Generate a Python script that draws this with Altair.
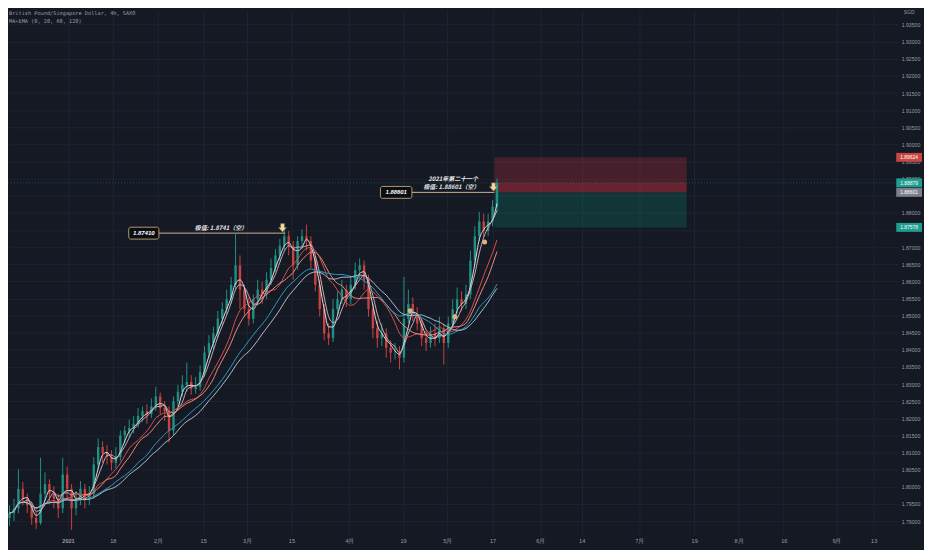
import json
import altair as alt
import pandas as pd

# ---------------- data (one candle per trading day) ----------------
close = [1.7923, 1.7937, 1.7994, 1.7965, 1.7946, 1.7909, 1.7894, 1.7980, 1.8008, 1.7980,
         1.7965, 1.7937, 1.8036, 1.7994, 1.7937, 1.7965, 1.7994, 1.7965, 1.7980, 1.8065,
         1.8116, 1.8099, 1.8087, 1.8070, 1.8087, 1.8150, 1.8164, 1.8172, 1.8184, 1.8207,
         1.8221, 1.8212, 1.8235, 1.8264, 1.8230, 1.8221, 1.8164, 1.8250, 1.8278, 1.8298,
         1.8306, 1.8286, 1.8292, 1.8335, 1.8392, 1.8420, 1.8448, 1.8491, 1.8519, 1.8548,
         1.8590, 1.8647, 1.8576, 1.8519, 1.8491, 1.8548, 1.8576, 1.8562, 1.8605, 1.8639,
         1.8676, 1.8704, 1.8732, 1.8704, 1.8647, 1.8718, 1.8732, 1.8718, 1.8661, 1.8590,
         1.8519, 1.8448, 1.8434, 1.8519, 1.8548, 1.8576, 1.8548, 1.8590, 1.8633, 1.8647,
         1.8605, 1.8519, 1.8463, 1.8434, 1.8448, 1.8406, 1.8392, 1.8392, 1.8377, 1.8491,
         1.8534, 1.8505, 1.8477, 1.8434, 1.8420, 1.8448, 1.8434, 1.8463, 1.8420, 1.8477,
         1.8519, 1.8548, 1.8534, 1.8562, 1.8661, 1.8732, 1.8775, 1.8747, 1.8775, 1.8818, 1.8888]
high = [1.7946, 1.7965, 1.8051, 1.8014, 1.7980, 1.7957, 1.7929, 1.8085, 1.8042, 1.8022,
        1.8002, 1.7980, 1.8085, 1.8059, 1.8008, 1.7988, 1.8017, 1.8008, 1.8002, 1.8087,
        1.8141, 1.8133, 1.8122, 1.8107, 1.8116, 1.8164, 1.8178, 1.8196, 1.8207, 1.8230,
        1.8235, 1.8241, 1.8258, 1.8292, 1.8275, 1.8250, 1.8235, 1.8264, 1.8298, 1.8326,
        1.8363, 1.8326, 1.8321, 1.8355, 1.8411, 1.8443, 1.8468, 1.8514, 1.8539, 1.8576,
        1.8613, 1.8738, 1.8676, 1.8590, 1.8553, 1.8562, 1.8605, 1.8599, 1.8627, 1.8667,
        1.8695, 1.8724, 1.8752, 1.8747, 1.8718, 1.8732, 1.8752, 1.8766, 1.8732, 1.8676,
        1.8605, 1.8534, 1.8477, 1.8548, 1.8571, 1.8605, 1.8590, 1.8616, 1.8656, 1.8667,
        1.8661, 1.8619, 1.8534, 1.8485, 1.8477, 1.8463, 1.8428, 1.8420, 1.8411, 1.8613,
        1.8576, 1.8553, 1.8525, 1.8491, 1.8454, 1.8468, 1.8477, 1.8497, 1.8477, 1.8497,
        1.8548, 1.8582, 1.8571, 1.8590, 1.8690, 1.8761, 1.8803, 1.8798, 1.8798, 1.8838, 1.8900]
low = [1.7886, 1.7900, 1.7923, 1.7946, 1.7923, 1.7889, 1.7877, 1.7889, 1.7957, 1.7951,
       1.7937, 1.7909, 1.7923, 1.7965, 1.7874, 1.7917, 1.7946, 1.7937, 1.7946, 1.7965,
       1.8051, 1.8070, 1.8065, 1.8048, 1.8053, 1.8076, 1.8127, 1.8144, 1.8156, 1.8173,
       1.8190, 1.8184, 1.8201, 1.8221, 1.8212, 1.8193, 1.8130, 1.8150, 1.8235, 1.8264,
       1.8278, 1.8269, 1.8272, 1.8281, 1.8321, 1.8377, 1.8400, 1.8434, 1.8471, 1.8505,
       1.8534, 1.8576, 1.8519, 1.8497, 1.8471, 1.8477, 1.8531, 1.8534, 1.8548, 1.8590,
       1.8627, 1.8661, 1.8690, 1.8676, 1.8605, 1.8633, 1.8695, 1.8690, 1.8639, 1.8571,
       1.8497, 1.8428, 1.8414, 1.8423, 1.8502, 1.8534, 1.8525, 1.8534, 1.8576, 1.8610,
       1.8576, 1.8497, 1.8434, 1.8406, 1.8411, 1.8377, 1.8363, 1.8372, 1.8343, 1.8363,
       1.8477, 1.8485, 1.8457, 1.8411, 1.8397, 1.8406, 1.8411, 1.8420, 1.8357, 1.8406,
       1.8463, 1.8505, 1.8514, 1.8519, 1.8548, 1.8647, 1.8718, 1.8730, 1.8732, 1.8761, 1.8803]
first_open = 1.7909

# x-axis: positions on the bar-index scale and their labels
tick_pos = [14.2, 24.3, 34.5, 44.7, 54.6, 64.6, 77.7, 89.8, 99.8, 110.0,
            120.8, 130.1, 143.1, 155.5, 165.5, 175.7, 187.6, 196.0]
tick_lab = ["2021", "18", "2月", "15", "3月", "15", "4月", "19", "5月", "17",
            "6月", "14", "7月", "19", "8月", "16", "9月", "13"]
y_ticks = [1.790, 1.795, 1.800, 1.805, 1.810, 1.815, 1.820, 1.825, 1.830, 1.835,
           1.840, 1.845, 1.850, 1.855, 1.860, 1.865, 1.870, 1.875, 1.880, 1.885,
           1.890, 1.895, 1.900, 1.905, 1.910, 1.915, 1.920, 1.925, 1.930, 1.935]
y_hidden = [1.875, 1.885]   # scale labels covered by the price tags

# moving averages (MA / EMA pairs, window in daily bars)
ma_names = ["w1", "w2", "r1", "r2", "t1", "t2"]
ma_frames = [2, 3, 8, 10, 17, 20]
ma_colors = ["#dcdde4", "#c9aeb3", "#dc4f48", "#e98c84", "#2a9cc0", "#adbecb"]

# short position tool
pos_start, pos_end = 110.4, 153.8
stop_price = 1.89624
entry_price = 1.88601
target_price = 1.87578
current_price = 1.88879

# annotations
ann_price = [1.87410, 1.88601]
ann_line_x0 = [34.7, 91.8]
ann_line_x1 = [63.2, 110.4]
ann_box_x0 = [27.9, 84.7]
ann_box_x1 = [34.7, 91.8]
ann_box_text = ["1.87410", "1.88601"]
ann_arrow_x = [62.6, 110.2]

note_low_x = [48.7, 100.7]
note_low_price = [1.87410, 1.88601]
note_low_text = ["极值: 1.8741（空）", "极值: 1.88601（空）"]
note_high_x = [101.1]
note_high_price = [1.88601]
note_high_text = ["2021年第二十一个"]

dot_x = [91.4, 101.5, 108.2]
dot_y = [1.8514, 1.8497, 1.8715]

tag_price = [1.89624, 1.88879, 1.88601, 1.87578]
tag_text = ["1.89624", "1.88879", "1.88601", "1.87578"]
tag_kind = ["stop", "current", "entry", "target"]

title1 = "British Pound/Singapore Dollar, 4h, SAXO"
title2 = "MA+EMA (0, 20, 60, 120)"

# ---------------- tables ----------------
df = pd.DataFrame({
    "idx": list(range(1, len(close) + 1)),
    "open": [first_open] + close[:-1],
    "high": high, "low": low, "close": close,
})
pos_df = pd.DataFrame({"x0": [pos_start], "x1": [pos_end], "stop": [stop_price],
                       "entry": [entry_price], "target": [target_price], "cur": [current_price]})
ann_df = pd.DataFrame({"price": ann_price, "lx0": ann_line_x0, "lx1": ann_line_x1,
                       "bx0": ann_box_x0, "bx1": ann_box_x1, "label": ann_box_text,
                       "ax": ann_arrow_x})
ann_df["bc"] = (ann_df["bx0"] + ann_df["bx1"]) / 2
note_low_df = pd.DataFrame({"x": note_low_x, "price": note_low_price, "t": note_low_text})
note_high_df = pd.DataFrame({"x": note_high_x, "price": note_high_price, "t": note_high_text})
dot_df = pd.DataFrame({"x": dot_x, "y": dot_y})
tag_df = pd.DataFrame({"price": tag_price, "t": tag_text, "kind": tag_kind})

# ---------------- scales / axes ----------------
BG = "#151924"
GRID = "#1f2331"
LABEL = "#9a9da6"
W, H = 897, 529

XS = alt.Scale(domain=[1.77, 200.2], nice=False, zero=False)
YS = alt.Scale(domain=[1.78744, 1.93773], nice=False, zero=False)
x_label_expr = "%s[indexof(%s, datum.value)]" % (json.dumps(tick_lab, ensure_ascii=False), json.dumps(tick_pos))
y_label_expr = "indexof(%s, datum.value) >= 0 ? '' : format(datum.value, '.5f')" % json.dumps(y_hidden)
XA = alt.Axis(values=tick_pos, labelExpr=x_label_expr, grid=True, gridColor=GRID, domain=False,
              ticks=False, labelColor=LABEL, labelFontSize=5.6, labelFont="Liberation Sans",
              labelPadding=4, labelFlush=False, labelOverlap=False, title=None,
              labelFontWeight={"expr": "datum.value == 14.2 ? 'bold' : 'normal'"})
YA = alt.Axis(orient="right", values=y_ticks, labelExpr=y_label_expr, grid=True, gridColor=GRID,
              domain=False, ticks=False, labelColor=LABEL, labelFontSize=5.2,
              labelFont="Liberation Sans", labelPadding=4, labelAlign="left",
              labelOverlap=False, labelFlush=False, title=None)

UP, DOWN = "#1f9184", "#c9423f"
col = alt.condition("datum.close >= datum.open", alt.value(UP), alt.value(DOWN))

base = alt.Chart(df)
wick = base.mark_rule(strokeWidth=1, clip=True).encode(
    x=alt.X("idx:Q", scale=XS, axis=XA),
    y=alt.Y("low:Q", scale=YS, axis=YA), y2="high:Q", color=col)
body = base.mark_bar(size=2.4, clip=True).encode(
    x=alt.X("idx:Q", scale=XS, axis=XA),
    y=alt.Y("open:Q", scale=YS, axis=YA), y2="close:Q", color=col)

ma = base
for name, f in zip(ma_names, ma_frames):
    ma = ma.transform_window(**{name: "mean(close)"}, frame=[-f, 0], sort=[alt.SortField("idx")])
ma = ma.transform_fold(ma_names, as_=["line", "val"]).mark_line(
    strokeWidth=1, interpolate="monotone", clip=True).encode(
    x=alt.X("idx:Q", scale=XS, axis=XA),
    y=alt.Y("val:Q", scale=YS, axis=YA),
    color=alt.Color("line:N", scale=alt.Scale(domain=ma_names, range=ma_colors), legend=None))

pos = alt.Chart(pos_df)
risk = pos.mark_rect(color="#f23645", opacity=0.22).encode(
    x=alt.X("x0:Q", scale=XS, axis=XA), x2="x1:Q",
    y=alt.Y("stop:Q", scale=YS, axis=YA), y2="entry:Q")
loss = pos.mark_rect(color="#f23645", opacity=0.2).encode(
    x=alt.X("x0:Q", scale=XS, axis=XA), x2="x1:Q",
    y=alt.Y("cur:Q", scale=YS, axis=YA), y2="entry:Q")
reward = pos.mark_rect(color="#089981", opacity=0.22).encode(
    x=alt.X("x0:Q", scale=XS, axis=XA), x2="x1:Q",
    y=alt.Y("entry:Q", scale=YS, axis=YA), y2="target:Q")
cur_line = pos.mark_rule(color="#26a69a", strokeDash=[1, 2], opacity=0.45, strokeWidth=1).encode(
    x=alt.value(0), x2=alt.value(W), y=alt.Y("cur:Q", scale=YS, axis=YA))

dots = alt.Chart(dot_df).mark_circle(size=26, color="#d9b27f", opacity=1).encode(
    x=alt.X("x:Q", scale=XS, axis=XA), y=alt.Y("y:Q", scale=YS, axis=YA))

ann = alt.Chart(ann_df)
ann_lines = ann.mark_rule(color="#cbb98f", strokeWidth=1).encode(
    x=alt.X("lx0:Q", scale=XS, axis=XA), x2="lx1:Q", y=alt.Y("price:Q", scale=YS, axis=YA))
ann_boxes = ann.mark_bar(size=12, cornerRadius=2, fill="#0b0d12", stroke="#b09c6e",
                         strokeWidth=1).encode(
    x=alt.X("bx0:Q", scale=XS, axis=XA), x2="bx1:Q", y=alt.Y("price:Q", scale=YS, axis=YA))
ann_box_txt = ann.mark_text(fontSize=6, fontWeight="bold", fontStyle="italic", color="#ffffff",
                            font="Liberation Sans", baseline="middle").encode(
    x=alt.X("bc:Q", scale=XS, axis=XA), y=alt.Y("price:Q", scale=YS, axis=YA), text="label:N")
ARROW = "M-0.5,-2.4H0.5V-1.45H1.05L0,-0.3L-1.05,-1.45H-0.5Z"
arrows = ann.mark_point(shape=ARROW, size=64, filled=True, fill="#eed9a0", stroke="#6b5a35",
                        strokeWidth=0.5, opacity=1).encode(
    x=alt.X("ax:Q", scale=XS, axis=XA), y=alt.Y("price:Q", scale=YS, axis=YA))

note_low = alt.Chart(note_low_df).mark_text(
    fontSize=6, fontWeight="bold", fontStyle="italic", color="#e6e6e6", dy=-5.5,
    font="Noto Sans CJK SC", baseline="middle").encode(
    x=alt.X("x:Q", scale=XS, axis=XA), y=alt.Y("price:Q", scale=YS, axis=YA), text="t:N")
note_high = alt.Chart(note_high_df).mark_text(
    fontSize=6, fontWeight="bold", fontStyle="italic", color="#e6e6e6", dy=-13,
    font="Noto Sans CJK SC", baseline="middle").encode(
    x=alt.X("x:Q", scale=XS, axis=XA), y=alt.Y("price:Q", scale=YS, axis=YA), text="t:N")

TAG = "M-2.6,-0.9H2.6V0.9H-2.6Z"
tags = alt.Chart(tag_df).mark_point(shape=TAG, size=100, filled=True, strokeWidth=0,
                                    opacity=1).encode(
    x=alt.value(909), y=alt.Y("price:Q", scale=YS, axis=YA),
    fill=alt.Fill("kind:N", scale=alt.Scale(domain=["stop", "current", "entry", "target"],
                                            range=["#c9463f", "#1f9d8f", "#7d808a", "#1f9d8f"]),
                  legend=None))
tag_txt = alt.Chart(tag_df).mark_text(fontSize=5, color="#ffffff", font="Liberation Sans",
                                      baseline="middle").encode(
    x=alt.value(909), y=alt.Y("price:Q", scale=YS, axis=YA), text="t:N")

head1 = alt.Chart(pd.DataFrame({"t": [title1]})).mark_text(
    align="left", baseline="middle", font="DejaVu Sans Mono", fontSize=5.3, color=LABEL).encode(
    x=alt.value(1), y=alt.value(3), text="t:N")
head2 = alt.Chart(pd.DataFrame({"t": [title2]})).mark_text(
    align="left", baseline="middle", font="DejaVu Sans Mono", fontSize=5.3, color=LABEL).encode(
    x=alt.value(1), y=alt.value(11), text="t:N")
sgd = alt.Chart(pd.DataFrame({"t": ["SGD"]})).mark_text(
    align="center", baseline="middle", font="Liberation Sans", fontSize=5, color=LABEL).encode(
    x=alt.value(909), y=alt.value(2), text="t:N")

chart = alt.layer(
    risk, loss, reward, cur_line, wick, body, ma, dots,
    ann_lines, ann_boxes, ann_box_txt, arrows, note_low, note_high,
    tags, tag_txt, head1, head2, sgd,
).properties(
    width=W, height=H,
    autosize=alt.AutoSizeParams(type="none"),
    padding={"left": 0, "top": 0, "right": 27, "bottom": 13},
).configure(background=BG).configure_view(stroke=None)

chart.save("out.html", embed_options={"renderer": "svg", "actions": False})
